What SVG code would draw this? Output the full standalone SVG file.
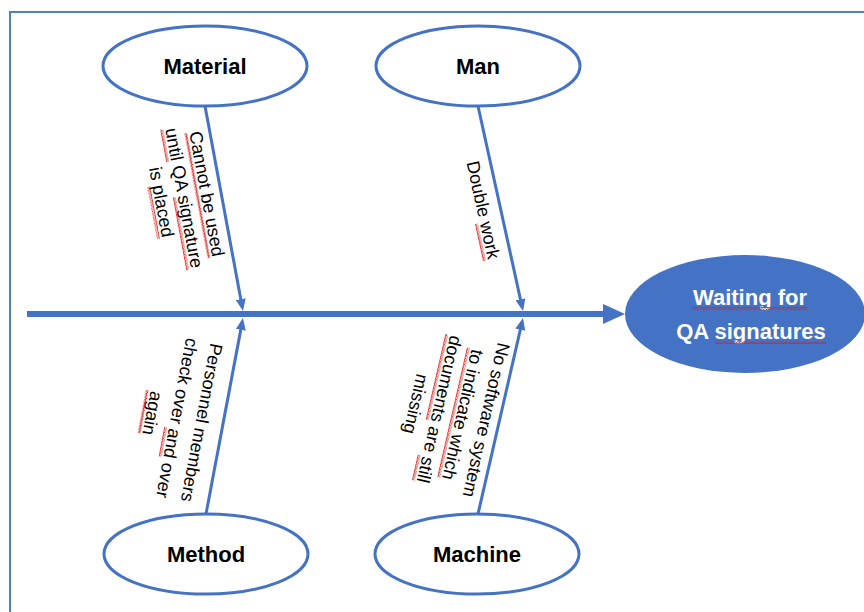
<svg xmlns="http://www.w3.org/2000/svg" width="864" height="612" viewBox="0 0 864 612">
  <style>
    .cause ellipse { fill: #ffffff; stroke: #4472C4; stroke-width: 3; }
    .cause text { font-family: "Liberation Sans", Arial, sans-serif; font-weight: bold; font-size: 22px; fill: #000000; text-anchor: middle; }
    .note text { font-family: "Liberation Sans", Arial, sans-serif; font-size: 18px; fill: #000000; text-anchor: middle; }
    .bone { stroke: #4472C4; stroke-width: 3; fill: none; marker-end: url(#tip); }
    .wavy { fill: url(#squiggle); }
    .effect text { font-family: "Liberation Sans", Arial, sans-serif; font-weight: bold; font-size: 22px; fill: #ffffff; text-anchor: middle; }
  </style>
  <defs>
    <marker id="tip" markerUnits="userSpaceOnUse" markerWidth="12" markerHeight="10" refX="4" refY="5" orient="auto">
      <path d="M0,0 L12,5 L0,10 z" fill="#4472C4"/>
    </marker>
    <!-- red wavy spell-check underline -->
    <pattern id="squiggle" patternUnits="userSpaceOnUse" width="3" height="3">
      <path d="M0,2.5 L1.5,0.5 L3,2.5" fill="none" stroke="#E02424" stroke-width="1.1"/>
    </pattern>
  </defs>

  <!-- outer frame -->
  <path d="M10,620 V12 H870" fill="none" stroke="#4F81BD" stroke-width="2"/>

  <!-- connectors: spine and bones -->
  <g id="connectors">
    <line x1="27" y1="314" x2="607" y2="314" stroke="#4472C4" stroke-width="6"/>
    <polygon points="603,304 625,314 603,324" fill="#4472C4"/>
    <line class="bone" x1="205" y1="106" x2="241.5" y2="303.1"/>
    <line class="bone" x1="478" y1="106" x2="521.3" y2="303.2"/>
    <line class="bone" x1="206" y1="514" x2="241.5" y2="325.9"/>
    <line class="bone" x1="478" y1="514" x2="521.2" y2="325.8"/>
  </g>

  <!-- effect -->
  <g id="effect" class="effect">
    <ellipse cx="745" cy="314" rx="120" ry="59" fill="#4472C4"/>
    <text x="750" y="305">Waiting for</text>
    <text x="751" y="339">QA signatures</text>
    <rect class="wavy" x="692.6" y="307" width="114.9" height="3"/>
    <rect class="wavy" x="714.9" y="341" width="111.3" height="3"/>
  </g>

  <!-- causes -->
  <g id="material" class="cause">
    <ellipse cx="205" cy="66" rx="102" ry="40"/>
    <text x="205" y="74">Material</text>
  </g>
  <g id="man" class="cause">
    <ellipse cx="478" cy="66" rx="102" ry="40"/>
    <text x="478" y="74">Man</text>
  </g>
  <g id="method" class="cause">
    <ellipse cx="206" cy="554" rx="102" ry="40"/>
    <text x="206" y="562">Method</text>
  </g>
  <g id="machine" class="cause">
    <ellipse cx="477" cy="554" rx="102" ry="40"/>
    <text x="477" y="562">Machine</text>
  </g>

  <!-- bone notes -->
  <g id="note-material" class="note" transform="translate(184,198) rotate(79.5)">
    <text x="0" y="-17">Cannot be used</text>
    <text x="0" y="6">until QA signature</text>
    <text x="0" y="29">is placed</text>
    <rect class="wavy" x="-63.5" y="-15" width="127" height="3"/>
    <rect class="wavy" x="-71.5" y="8" width="33" height="3"/>
    <rect class="wavy" x="-2.5" y="8" width="74" height="3"/>
    <rect class="wavy" x="-17.5" y="31" width="53" height="3"/>
  </g>
  <g id="note-man" class="note" transform="translate(483,210) rotate(77.6)">
    <text x="0" y="6">Double work</text>
    <rect class="wavy" x="12" y="8" width="38" height="3"/>
  </g>
  <g id="note-method" class="note" transform="translate(177,418) rotate(100.7)">
    <text x="0" y="-19">Personnel members</text>
    <text x="0" y="6">check over and over</text>
    <text x="0" y="31">again</text>
    <rect class="wavy" x="11" y="8" width="30" height="3"/>
    <rect class="wavy" x="-22" y="33" width="44" height="3"/>
  </g>
  <g id="note-machine" class="note" transform="translate(451,412) rotate(102.9)">
    <text x="0" y="-30">No software system</text>
    <text x="0" y="-6">to indicate which</text>
    <text x="0" y="18">documents are still</text>
    <text x="0" y="42">missing</text>
    <rect class="wavy" x="-66.5" y="-4" width="133" height="3"/>
    <rect class="wavy" x="-75" y="20" width="88" height="3"/>
    <rect class="wavy" x="49" y="20" width="26" height="3"/>
  </g>
</svg>
